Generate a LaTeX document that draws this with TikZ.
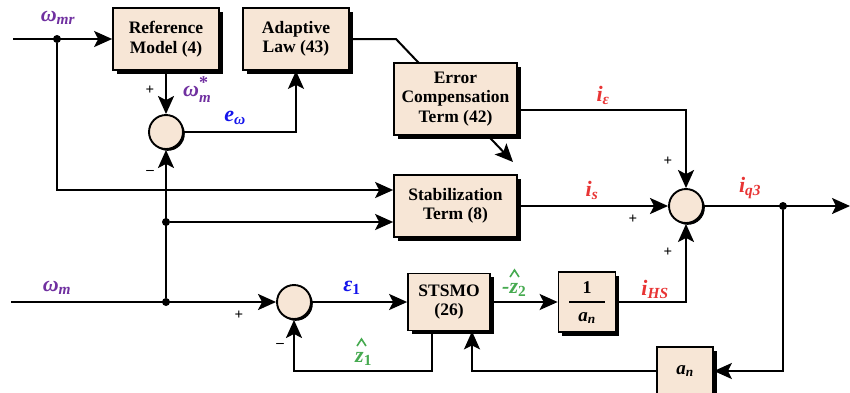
\documentclass[tikz,border=0pt]{standalone}
\usepackage{fontspec}
\setmainfont{Liberation Serif}
\usetikzlibrary{arrows.meta,shadows,calc}
\definecolor{boxfill}{RGB}{247,230,214}
\definecolor{omcol}{RGB}{112,48,160}
\definecolor{ecol}{RGB}{20,20,235}
\definecolor{icol}{RGB}{232,52,52}
\definecolor{zcol}{RGB}{70,170,80}
\newcommand\starsub[1]{\raisebox{-0.28em}{\begin{tabular}[b]{@{}l@{}}{\fontsize{18}{18}\selectfont\upshape *}\\[-8pt]{\fontsize{15}{15}\selectfont #1}\end{tabular}}}
\begin{document}
\begin{tikzpicture}[x=1pt,y=-1pt,
  blk/.style={draw, line width=1.7pt, fill=boxfill, align=center,
    font=\fontsize{17.5}{19.5}\selectfont\bfseries, inner sep=0pt,
    drop shadow={shadow xshift=3.5pt, shadow yshift=-3.5pt, fill=black, opacity=1}},
  sumc/.style={circle, draw, line width=1.9pt, fill=boxfill, minimum size=34pt, inner sep=0pt,
    drop shadow={shadow xshift=1.8pt, shadow yshift=-1.8pt, fill=black, opacity=1}},
  wire/.style={line width=2pt},
  arr/.style={wire, -{Stealth[length=18pt,width=16pt,inset=4pt]}},
  dot/.style={circle, fill=black, minimum size=8pt, inner sep=0pt},
  lbl/.style={font=\fontsize{22}{22}\selectfont\bfseries\itshape, inner sep=0pt},
  sgn/.style={font=\fontsize{15}{15}\selectfont\bfseries, inner sep=0pt},
  hatmark/.style={draw=zcol, line width=1.6pt, line join=miter}]
\useasboundingbox (0,0) rectangle (850,392);

% blocks
\node[blk, minimum width=106pt, minimum height=62pt] (ref) at (166,39) {Reference\\Model (4)};
\node[blk, minimum width=106pt, minimum height=62pt] (adapt) at (296,39) {Adaptive\\Law (43)};
\coordinate (bend) at (396,39);
\coordinate (tip) at (513,162);
\draw[arr] (adapt.east) -- (bend) -- (tip);
\node[blk, minimum width=123pt, minimum height=72pt] (errc) at (455.5,99) {Error\\Compensation\\Term (42)};
\node[blk, minimum width=123pt, minimum height=62pt] (stab) at (455.5,206) {Stabilization\\Term (8)};
\node[blk, minimum width=82pt, minimum height=57pt] (stsmo) at (449,302) {STSMO\\(26)};
\node[blk, minimum width=57pt, minimum height=60pt] (inv) at (587,302) {};
\node[font=\fontsize{18}{18}\selectfont\bfseries, inner sep=0pt] (invn) at (587,288) {1};
\node[font=\fontsize{19}{19}\selectfont\bfseries\itshape, inner sep=0pt] (invd) at (587,318) {a\textsubscript{n}};
\draw[line width=1.3pt] ($(inv.center)+(-18,0)$) -- ($(inv.center)+(18,0)$);
\node[blk, minimum width=56pt, minimum height=48pt, font=\fontsize{19}{19}\selectfont\bfseries\itshape] (gain) at (685,371) {a\textsubscript{n}};

% summing junctions
\node[sumc] (s1) at (166,132) {};
\node[sumc] (s2) at (686,206) {};
\node[sumc] (s3) at (294,302) {};

% dots
\node[dot] (d1) at (57,39) {};
\node[dot] (d2) at (166,302) {};
\node[dot] (d3) at (166,222) {};
\node[dot] (d4) at (783,206) {};

% connectors
\coordinate (in1) at (13,39);
\coordinate (in2) at (11,302);
\coordinate (out) at (850,206);
\draw[arr] (in1) -- (ref.west);
\draw[arr] (d1) |- ($(stab.west)+(0,-16)$);
\draw[arr] (d3) -- ($(stab.west)+(0,16)$);
\draw[arr] (ref.south) -- (s1.north);
\draw[arr] (s1.east) -| (adapt.south);
\draw[arr] (d2) -- (s1.south);
\draw[arr] (in2) -- (s3.west);
\draw[arr] ($(errc.east)+(0,11)$) -| (s2.north);
\draw[arr] (stab.east) -- (s2.west);
\draw[arr] (s2.east) -- (out);
\draw[arr] (d4) |- (gain.east);
\draw[arr] (gain.west) -| ($(stsmo.south)+(23,0)$);
\draw[arr] (s3.east) -- (stsmo.west);
\draw[arr] (stsmo.east) -- (inv.west);
\draw[arr] (inv.east) -| (s2.south);
\draw[arr] ($(stsmo.south)+(-17,0)$) |- (s3.south |- gain.west) -- (s3.south);

% labels
\node[lbl, text=omcol] (lwmr) at (58,18) {ω\textsubscript{mr}};
\node[sgn] (p1) at (150,90) {+};
\node[sgn] (m1) at (150,172) {–};
\node[lbl, text=omcol] (lwms) at (197,91) {ω\starsub{m}};
\node[lbl, text=ecol] (lew) at (235,118) {e\textsubscript{ω}};
\node[lbl, text=icol] (lie) at (603,95) {i\textsubscript{ε}};
\node[sgn] (p2) at (668,161) {+};
\node[lbl, text=icol] (lis) at (592,190) {i\textsubscript{s}};
\node[sgn] (p3) at (633,219) {+};
\node[lbl, text=icol] (liq) at (750,188) {i\textsubscript{q3}};
\node[sgn] (p4) at (668,252) {+};
\node[lbl, text=omcol] (lwm) at (57,288) {ω\textsubscript{m}};
\node[sgn] (p5) at (239,315) {+};
\node[sgn] (m2) at (280,345) {–};
\node[lbl, text=ecol] (le1) at (352,288) {ε\textsubscript{\upshape 1}};
\node[lbl, text=icol] (lihs) at (655,289) {i\textsubscript{HS}};
% z-hat labels (hat drawn as a chevron)
\node[lbl, text=zcol, anchor=base west] (lz2) at (502,293) {-z\textsubscript{\upshape 2}};
\draw[hatmark] (510,277) -- (514.5,270) -- (519,277);
\node[lbl, text=zcol, anchor=base west] (lz1) at (355,362) {z\textsubscript{\upshape 1}};
\draw[hatmark] (357,346) -- (361.5,339) -- (366,346);
\end{tikzpicture}
\end{document}
